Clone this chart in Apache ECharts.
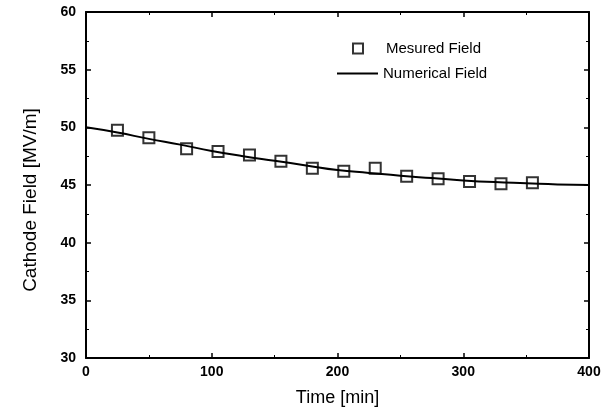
<!DOCTYPE html>
<html lang="en">
  <head>
    <meta charset="UTF-8" />
    <title>Cathode Field</title>
    <script src="https://cdn.jsdelivr.net/npm/echarts@6/dist/echarts.min.js"></script>
  </head>
  <body style="margin: 0; background: #fff">
    <div id="main" style="width: 612px; height: 419px"></div>
    <script type="text/javascript">
      var measuredTime = [25, 50, 80, 105, 130, 155, 180, 205, 230, 255, 280, 305, 330, 355];
      var measuredField = [49.75, 49.1, 48.15, 47.9, 47.6, 47.05, 46.45, 46.2, 46.45, 45.75, 45.55, 45.3, 45.1, 45.2];

      // numerical curve
      var numTime = [0, 25, 50, 75, 100, 125, 150, 175, 200, 225, 250, 275, 300, 325, 350, 375, 400];
      var numField = [50.0, 49.55, 49.0, 48.5, 47.95, 47.5, 47.1, 46.7, 46.3, 46.05, 45.8, 45.6, 45.4, 45.25, 45.15, 45.05, 45.0];

      var font = "Liberation Sans, Arial, sans-serif";

      function pairs(xs, ys) {
        var out = [];
        for (var i = 0; i < xs.length; i++) out.push([xs[i], ys[i]]);
        return out;
      }

      function axisBase(extra) {
        var base = {
          type: "value",
          axisLine: { show: true, onZero: false, lineStyle: { color: "#000", width: 2 } },
          axisTick: { show: true, inside: true, length: 5, lineStyle: { color: "#000", width: 1.5 } },
          minorTick: { show: true, splitNumber: 2, length: 3, lineStyle: { color: "#000", width: 1 } },
          splitLine: { show: false },
        };
        for (var k in extra) base[k] = extra[k];
        return base;
      }

      var myChart = echarts.init(document.getElementById("main"));
      var option = {
        backgroundColor: "#fff",
        animation: false,
        grid: { left: 86, right: 23, top: 12, bottom: 61 },
        legend: [
          {
            left: 347,
            top: 36,
            itemWidth: 10,
            itemHeight: 10,
            data: [
              {
                name: "Mesured Field",
                icon: "rect",
                itemStyle: { color: "transparent", borderColor: "#000", borderWidth: 2 },
              },
            ],
            textStyle: { fontFamily: font, fontSize: 15, color: "#000", padding: [0, 0, 0, 18] },
          },
          {
            left: 332,
            top: 61,
            itemWidth: 41,
            itemHeight: 2,
            data: [
              {
                name: "Numerical Field",
                icon: "rect",
                itemStyle: { color: "#000", borderWidth: 0 },
              },
            ],
            textStyle: { fontFamily: font, fontSize: 15, color: "#000" },
          },
        ],
        xAxis: [
          axisBase({
            min: 0,
            max: 400,
            interval: 100,
            position: "bottom",
            name: "Time [min]",
            nameLocation: "middle",
            nameGap: 31,
            nameTextStyle: { fontFamily: font, fontSize: 18, color: "#000" },
            axisLabel: { fontFamily: font, fontSize: 14, fontWeight: "bold", color: "#000", margin: 7 },
          }),
          axisBase({
            min: 0,
            max: 400,
            interval: 100,
            position: "top",
            axisLabel: { show: false },
          }),
        ],
        yAxis: [
          axisBase({
            min: 30,
            max: 60,
            interval: 5,
            position: "left",
            name: "Cathode Field [MV/m]",
            nameLocation: "middle",
            nameGap: 46,
            nameTextStyle: { fontFamily: font, fontSize: 19, color: "#000", padding: [0, 30, 0, 0] },
            axisLabel: { fontFamily: font, fontSize: 14, fontWeight: "bold", color: "#000", margin: 10 },
          }),
          axisBase({
            min: 30,
            max: 60,
            interval: 5,
            position: "right",
            axisLabel: { show: false },
          }),
        ],
        series: [
          {
            name: "Numerical Field",
            type: "line",
            data: pairs(numTime, numField),
            smooth: true,
            symbol: "none",
            lineStyle: { color: "#000", width: 2 },
            itemStyle: { color: "#000" },
            z: 2,
          },
          {
            name: "Mesured Field",
            type: "scatter",
            data: pairs(measuredTime, measuredField),
            symbol: "rect",
            symbolSize: 11,
            itemStyle: { color: "transparent", borderColor: "#000", borderWidth: 2 },
            z: 3,
          },
        ],
      };
      myChart.setOption(option);
    </script>
  </body>
</html>
